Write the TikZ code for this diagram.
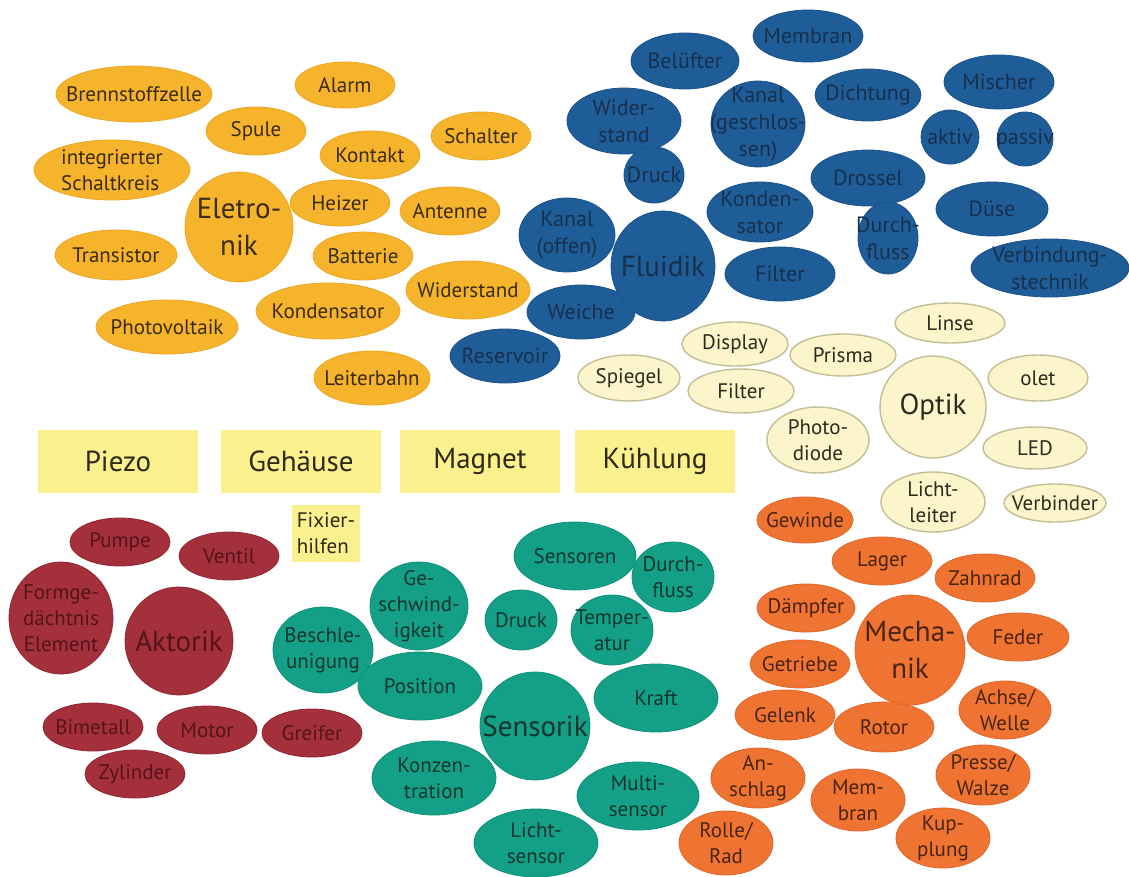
\documentclass[tikz,border=0pt]{standalone}
\usepackage{fontspec}
\setmainfont{PT Sans}
\usetikzlibrary{shapes.geometric}

\definecolor{elfill}{HTML}{F6B42C}
\definecolor{eledge}{HTML}{EBA623}
\definecolor{eltext}{HTML}{3A2C14}
\definecolor{flfill}{HTML}{1F5D99}
\definecolor{fledge}{HTML}{1A528A}
\definecolor{fltext}{HTML}{18304C}
\definecolor{opfill}{HTML}{FCF5CC}
\definecolor{opedge}{HTML}{C4BE94}
\definecolor{optext}{HTML}{2B2A1E}
\definecolor{boxfill}{HTML}{FAF08D}
\definecolor{boxtext}{HTML}{2E2A18}
\definecolor{akfill}{HTML}{A3303A}
\definecolor{akedge}{HTML}{902632}
\definecolor{aktext}{HTML}{55141A}
\definecolor{sefill}{HTML}{13A087}
\definecolor{seedge}{HTML}{0F9079}
\definecolor{setext}{HTML}{14362D}
\definecolor{mefill}{HTML}{EF7431}
\definecolor{meedge}{HTML}{E0652A}
\definecolor{metext}{HTML}{4A2412}

\tikzset{
  bub/.style={ellipse, inner sep=-40pt, outer sep=0pt, align=center, line width=0.8pt,
    font=\fontsize{21}{26}\selectfont},
  sz/.style 2 args={minimum width=#1pt, minimum height=#2pt},
  big/.style={font=\fontsize{29}{37}\selectfont},
  el/.style={bub, fill=elfill, draw=eledge, text=eltext},
  fl/.style={bub, fill=flfill, draw=fledge, text=fltext, font=\fontsize{22}{27}\selectfont},
  op/.style={bub, fill=opfill, draw=opedge, line width=1.4pt, text=optext},
  ak/.style={bub, fill=akfill, draw=akedge, text=aktext},
  se/.style={bub, fill=sefill, draw=seedge, text=setext},
  me/.style={bub, fill=mefill, draw=meedge, text=metext},
  box/.style={rectangle, fill=boxfill, text=boxtext, inner sep=0pt,
    minimum width=160pt, minimum height=63pt, font=\fontsize{29}{34}\selectfont},
  smallbox/.style={rectangle, fill=boxfill, text=boxtext, inner sep=0pt, align=left,
    minimum width=68pt, minimum height=57pt, font=\fontsize{21}{26}\selectfont}
}

\begin{document}
\begin{tikzpicture}[x=1pt, y=-1pt]
\useasboundingbox[fill=white] (0,0) rectangle (1129,877);

% Elektronik
\node[el, sz={156}{56}] (brennstoffzelle) at (134,94) {Brennstoffzelle};
\node[el, sz={100}{46}] (alarm) at (345,85) {Alarm};
\node[el, sz={100}{48}] (spule) at (256,131) {Spule};
\node[el, sz={100}{48}] (schalter) at (481,136) {Schalter};
\node[el, sz={156}{60}, align=left] (ic) at (112,170) {integrierter\\Schaltkreis};
\node[el, sz={100}{48}] (kontakt) at (370,155) {Kontakt};
\node[el, sz={100}{48}] (antenne) at (450,211) {Antenne};
\node[el, sz={122}{50}] (transistor) at (116,255) {Transistor};
\node[el, sz={100}{48}] (batterie) at (363,256) {Batterie};
\node[el, sz={124}{58}] (widerstand) at (468,290) {Widerstand};
\node[el, sz={144}{56}] (kondensator) at (328,311) {Kondensator};
\node[el, sz={142}{54}] (photovoltaik) at (167,327) {Photovoltaik};
\node[el, sz={116}{54}] (leiterbahn) at (372,378) {Leiterbahn};
\node[el, big, sz={108}{110}] (elektronik) at (239,227) {Eletro-\\nik};
\node[el, sz={100}{46}] (heizer) at (340,203) {Heizer};

% Fluidik
\node[fl, sz={110}{52}] (membran) at (808,36) {Membran};
\node[fl, sz={108}{56}] (beluefter) at (685,61) {Belüfter};
\node[fl, sz={114}{66}] (fwiderstand) at (624,121) {Wider-\\stand};
\node[fl, sz={106}{52}] (dichtung) at (868,95) {Dichtung};
\node[fl, sz={110}{54}] (mischer) at (999,82) {Mischer};
\node[fl, sz={58}{54}] (aktiv) at (950,137) {aktiv};
\node[fl, sz={56}{54}] (passiv) at (1025,139) {passiv};
\node[fl, sz={60}{56}] (fdruck) at (654,175) {Druck};
\node[fl, sz={94}{86}] (kanalg) at (758,124) {Kanal\\(geschlos-\\sen)};
\node[fl, sz={114}{56}] (drossel) at (868,178) {Drossel};
\node[fl, sz={106}{60}] (fkondensator) at (760,212) {Konden-\\sator};
\node[fl, sz={60}{72}] (fdurchfluss) at (888,238) {Durch-\\fluss};
\node[fl, sz={112}{54}] (duese) at (992,209) {Düse};
\node[fl, sz={96}{74}] (kanalo) at (567,235) {Kanal\\(offen)};
\node[fl, sz={110}{54}] (ffilter) at (780,274) {Filter};
\node[fl, sz={158}{58}] (verbindung) at (1050,268) {Verbindung-\\stechnik};
\node[fl, sz={108}{54}] (weiche) at (581,312) {Weiche};
\node[fl, sz={110}{54}] (reservoir) at (505,356) {Reservoir};
\node[fl, big, sz={104}{110}] (fluidik) at (663,266) {Fluidik};

% Optik
\node[op, sz={110}{40}] (linse) at (950,323) {Linse};
\node[op, sz={106}{44}] (display) at (735,344) {Display};
\node[op, sz={106}{42}] (prisma) at (843,355) {Prisma};
\node[op, sz={102}{46}] (spiegel) at (629,378) {Spiegel};
\node[op, sz={106}{44}] (ofilter) at (741,391) {Filter};
\node[op, sz={100}{46}] (olet) at (1038,378) {olet};
\node[op, sz={102}{66}] (photodiode) at (818,440) {Photo-\\diode};
\node[op, sz={104}{42}] (led) at (1035,448) {LED};
\node[op, sz={104}{60}] (lichtleiter) at (933,502) {Licht-\\leiter};
\node[op, sz={102}{38}] (verbinder) at (1055,503) {Verbinder};
\node[op, big, sz={106}{102}] (optik) at (933,407) {Optik};

% Querschnittsthemen
\node[box] (piezo) at (118,461) {Piezo};
\node[box] (gehaeuse) at (301,461) {Gehäuse};
\node[box] (magnet) at (480,461) {Magnet};
\node[box] (kuehlung) at (655,461) {Kühlung};
\node[smallbox] (fixier) at (326,533) {Fixier-\\hilfen};

% Aktorik
\node[ak, sz={100}{48}] (pumpe) at (120,542) {Pumpe};
\node[ak, sz={100}{48}] (ventil) at (229,556) {Ventil};
\node[ak, sz={104}{112}] (formged) at (61,618) {Formge-\\dächtnis\\Element};
\node[ak, sz={100}{48}] (bimetall) at (93,727) {Bimetall};
\node[ak, sz={100}{48}] (motor) at (207,730) {Motor};
\node[ak, sz={100}{48}] (greifer) at (312,733) {Greifer};
\node[ak, sz={100}{48}] (zylinder) at (135,774) {Zylinder};
\node[ak, big, sz={108}{108}] (aktorik) at (179,641) {Aktorik};

% Sensorik
\node[se, sz={122}{68}] (sensoren) at (575,556) {Sensoren};
\node[se, sz={82}{70}] (sdurchfluss) at (673,577) {Durch-\\fluss};
\node[se, sz={98}{88}] (geschw) at (419,606) {Ge-\\schwind-\\igkeit};
\node[se, sz={72}{60}] (sdruck) at (521,620) {Druck};
\node[se, sz={82}{70}] (temperatur) at (612,630) {Temper-\\atur};
\node[se, sz={100}{86}] (beschl) at (323,650) {Beschle-\\unigung};
\node[se, sz={124}{68}] (position) at (420,686) {Position};
\node[se, sz={124}{68}] (kraft) at (656,698) {Kraft};
\node[se, sz={124}{74}] (konzentration) at (434,778) {Konzen-\\tration};
\node[se, sz={122}{68}] (multisensor) at (638,796) {Multi-\\sensor};
\node[se, sz={124}{68}] (lichtsensor) at (536,843) {Licht-\\sensor};
\node[se, big, sz={110}{108}] (sensorik) at (535,726) {Sensorik};

% Mechanik
\node[me, sz={96}{46}] (gewinde) at (805,520) {Gewinde};
\node[me, sz={100}{48}] (lager) at (882,561) {Lager};
\node[me, sz={100}{48}] (zahnrad) at (985,578) {Zahnrad};
\node[me, sz={98}{48}] (daempfer) at (806,608) {Dämpfer};
\node[me, sz={102}{48}] (feder) at (1018,637) {Feder};
\node[me, sz={100}{48}] (getriebe) at (800,664) {Getriebe};
\node[me, sz={100}{50}] (gelenk) at (785,715) {Gelenk};
\node[me, sz={100}{50}] (rotor) at (884,727) {Rotor};
\node[me, sz={92}{58}] (achse) at (1005,710) {Achse/\\Welle};
\node[me, sz={94}{60}] (anschlag) at (758,778) {An-\\schlag};
\node[me, sz={94}{62}] (mmembran) at (858,800) {Mem-\\bran};
\node[me, sz={94}{60}] (presse) at (983,775) {Presse/\\Walze};
\node[me, sz={94}{64}] (rolle) at (726,843) {Rolle/\\Rad};
\node[me, sz={94}{60}] (kupplung) at (943,838) {Kup-\\plung};
\node[me, big, sz={110}{110}] (mechanik) at (910,650) {Mecha-\\nik};
\end{tikzpicture}
\end{document}
